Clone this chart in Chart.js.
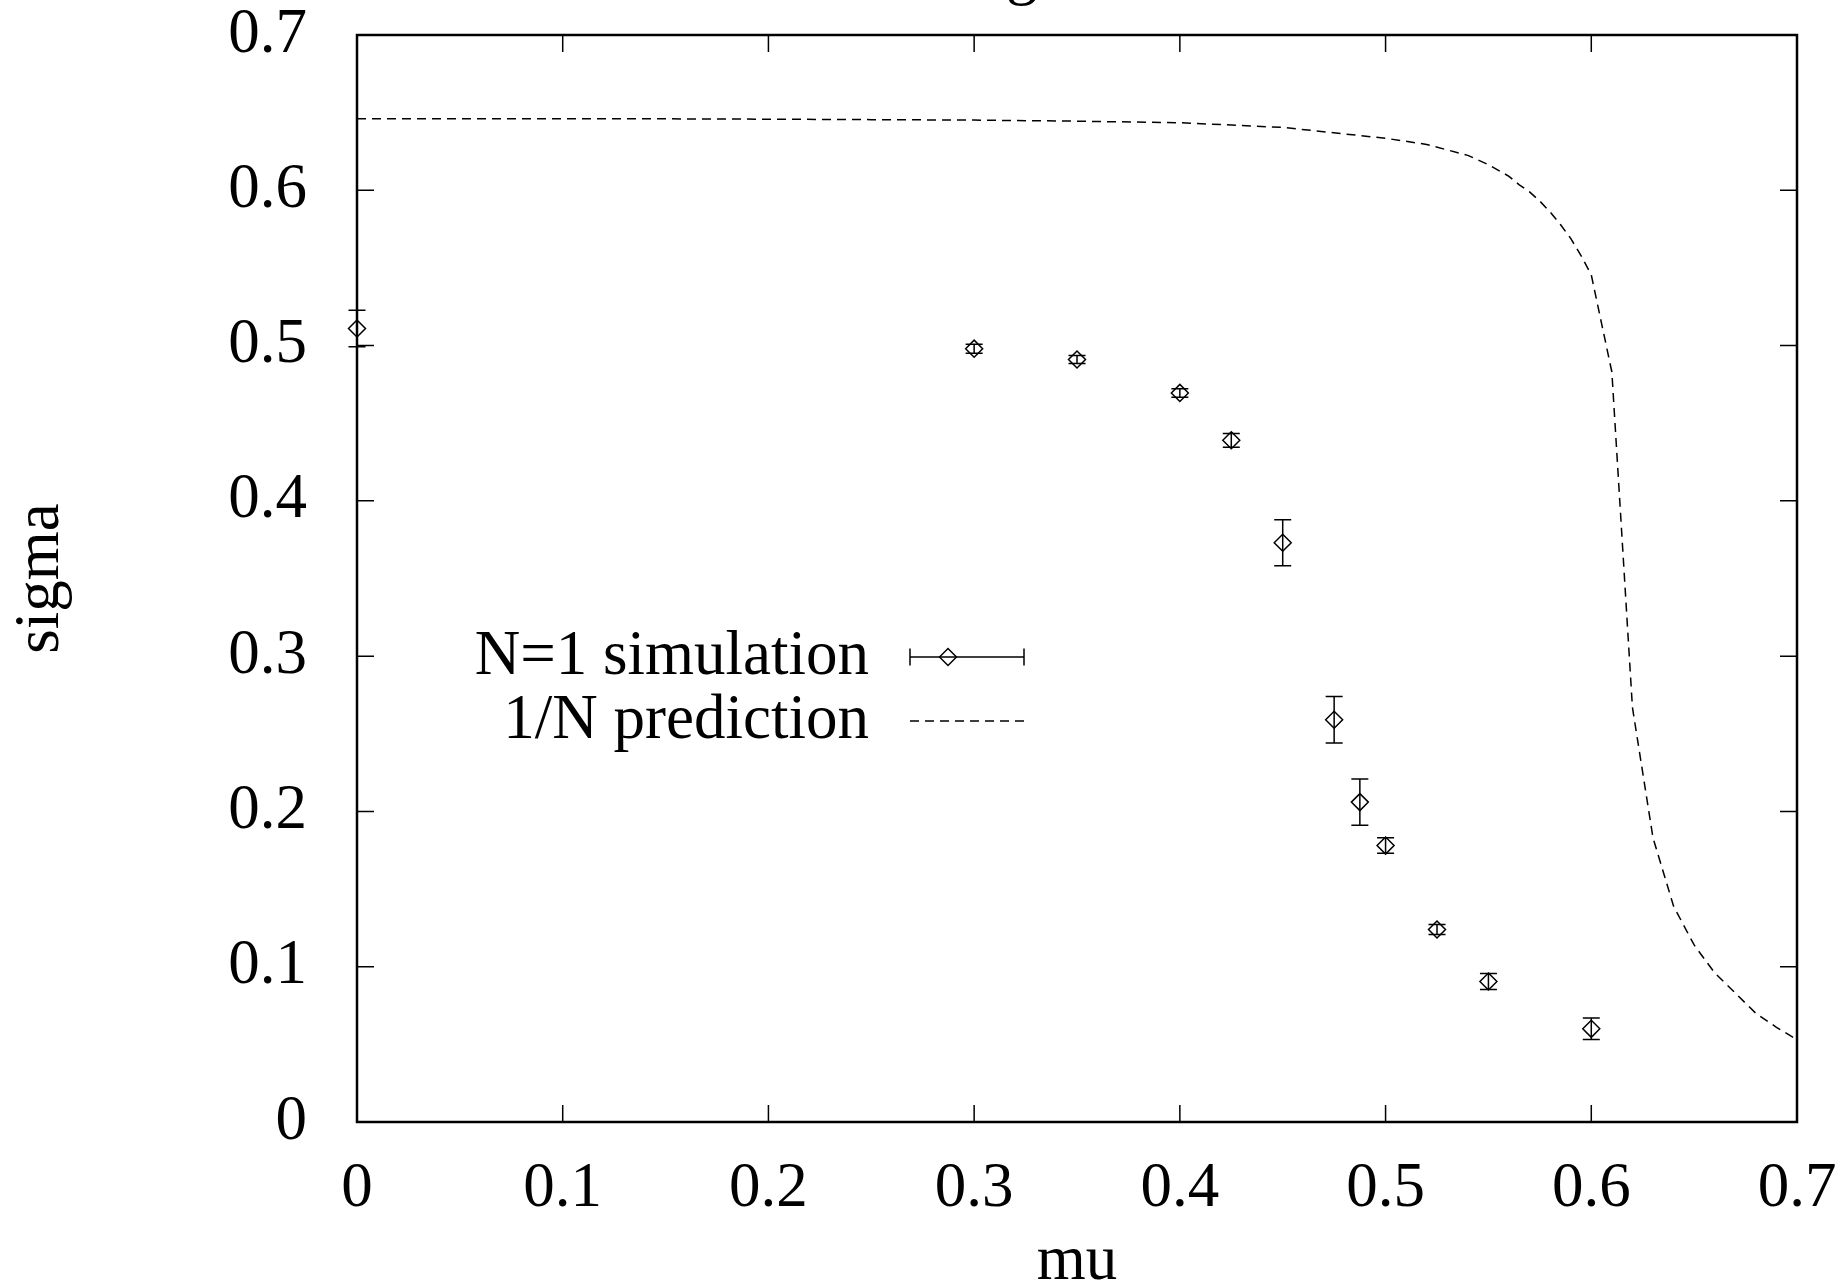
<!DOCTYPE html>
<html>
<head>
<meta charset="utf-8">
<title>sigma vs mu</title>
<script src="https://cdn.jsdelivr.net/npm/chart.js@4.4.0/dist/chart.umd.min.js"></script>
<style>
  html, body { margin: 0; padding: 0; background: #fff; }
  canvas { display: block; }
</style>
</head>
<body>
<canvas id="myChart" width="1841" height="1280"></canvas>
<script>
// N=1 simulation points (mu, sigma, error)
const simMu = [0, 0.3, 0.35, 0.4, 0.425, 0.45, 0.475, 0.4875, 0.5, 0.525, 0.55, 0.6];
const simSigma = [0.511, 0.498, 0.491, 0.4695, 0.439, 0.373, 0.259, 0.206, 0.178, 0.124, 0.0905, 0.060];
const simErr = [0.0118, 0.0029, 0.0026, 0.0027, 0.0044, 0.0148, 0.015, 0.0149, 0.005, 0.0032, 0.0052, 0.0069];

// 1/N prediction curve
const predMu = [0, 0.05, 0.1, 0.15, 0.2, 0.25, 0.3, 0.35, 0.4, 0.45, 0.5, 0.52, 0.54, 0.55, 0.56, 0.565, 0.57, 0.575, 0.58, 0.585, 0.59, 0.595, 0.6, 0.61, 0.62, 0.63, 0.64, 0.65, 0.66, 0.67, 0.68, 0.69, 0.7];
const predSigma = [0.646, 0.646, 0.646, 0.646, 0.6458, 0.6455, 0.6452, 0.6445, 0.6435, 0.6405, 0.6335, 0.6295, 0.6225, 0.6165, 0.609, 0.6035, 0.599, 0.593, 0.586, 0.578, 0.569, 0.558, 0.5455, 0.483, 0.267, 0.183, 0.139, 0.114, 0.096, 0.083, 0.070, 0.061, 0.053];

const xTicks = [0, 0.1, 0.2, 0.3, 0.4, 0.5, 0.6, 0.7];
const yTicks = [0, 0.1, 0.2, 0.3, 0.4, 0.5, 0.6, 0.7];

const FONT = "'Liberation Serif', 'Times New Roman', serif";
const FONT_SIZE = 63;

const fmt = v => (v === 0 ? '0' : v.toFixed(1));

function diamond(ctx, x, y, r) {
  ctx.beginPath();
  ctx.moveTo(x - r, y);
  ctx.lineTo(x, y - r);
  ctx.lineTo(x + r, y);
  ctx.lineTo(x, y + r);
  ctx.closePath();
  ctx.stroke();
}

// labels are allowed to hang over the plot edges, like gnuplot does
function noLabelPadding(scale) {
  scale.paddingTop = 0;
  scale.paddingBottom = 0;
  scale.paddingLeft = 0;
  scale.paddingRight = 0;
}

// gnuplot style frame with inward ticks on every side
const framePlugin = {
  id: 'frame',
  afterDraw(chart) {
    const { ctx, chartArea: a, scales: { x, y } } = chart;
    ctx.save();
    ctx.strokeStyle = '#000';
    ctx.lineWidth = 1.5;
    ctx.beginPath();
    xTicks.forEach(v => {
      const px = x.getPixelForValue(v);
      ctx.moveTo(px, a.bottom); ctx.lineTo(px, a.bottom - 17);
      ctx.moveTo(px, a.top); ctx.lineTo(px, a.top + 17);
    });
    yTicks.forEach(v => {
      const py = y.getPixelForValue(v);
      ctx.moveTo(a.left, py); ctx.lineTo(a.left + 17, py);
      ctx.moveTo(a.right, py); ctx.lineTo(a.right - 17, py);
    });
    ctx.stroke();
    ctx.lineWidth = 2.5;
    ctx.strokeRect(a.left, a.top, a.right - a.left, a.bottom - a.top);

    // bit of the title that pokes into the picture
    ctx.fillStyle = '#000';
    ctx.font = `${FONT_SIZE}px ${FONT}`;
    ctx.textAlign = 'center';
    ctx.textBaseline = 'alphabetic';
    ctx.fillText('g', 1022, -8);
    ctx.restore();
  }
};

// vertical error bars with caps
const errorBarPlugin = {
  id: 'errorBars',
  afterDatasetsDraw(chart) {
    const { ctx, scales: { x, y } } = chart;
    ctx.save();
    ctx.strokeStyle = '#000';
    ctx.lineWidth = 1.5;
    ctx.beginPath();
    simMu.forEach((m, i) => {
      const px = x.getPixelForValue(m);
      const top = y.getPixelForValue(simSigma[i] + simErr[i]);
      const bot = y.getPixelForValue(simSigma[i] - simErr[i]);
      ctx.moveTo(px, top); ctx.lineTo(px, bot);
      ctx.moveTo(px - 8.5, top); ctx.lineTo(px + 8.5, top);
      ctx.moveTo(px - 8.5, bot); ctx.lineTo(px + 8.5, bot);
    });
    ctx.stroke();
    ctx.restore();
  }
};

// key placed inside the plot, text to the left of the sample
const keyPlugin = {
  id: 'key',
  afterDraw(chart) {
    const { ctx } = chart;
    const ds = chart.data.datasets;
    const textRight = 869, x0 = 910, x1 = 1024;
    const rows = [657, 721];
    ctx.save();
    ctx.fillStyle = '#000';
    ctx.strokeStyle = '#000';
    ctx.font = `${FONT_SIZE}px ${FONT}`;
    ctx.textAlign = 'right';
    ctx.textBaseline = 'middle';
    ctx.fillText(ds[0].label, textRight, rows[0]);
    ctx.fillText(ds[1].label, textRight, rows[1]);

    ctx.lineWidth = 1.5;
    ctx.beginPath();
    ctx.moveTo(x0, rows[0]); ctx.lineTo(x1, rows[0]);
    ctx.moveTo(x0, rows[0] - 8.5); ctx.lineTo(x0, rows[0] + 8.5);
    ctx.moveTo(x1, rows[0] - 8.5); ctx.lineTo(x1, rows[0] + 8.5);
    ctx.stroke();
    diamond(ctx, 948, rows[0], 8.5);

    ctx.setLineDash([9, 6]);
    ctx.beginPath();
    ctx.moveTo(x0, rows[1]); ctx.lineTo(x1, rows[1]);
    ctx.stroke();
    ctx.restore();
  }
};

const ctx = document.getElementById('myChart').getContext('2d');
const myChart = new Chart(ctx, {
  type: 'scatter',
  data: {
    datasets: [
      {
        label: 'N=1 simulation',
        data: simMu.map((m, i) => ({ x: m, y: simSigma[i] })),
        showLine: false,
        pointStyle: 'rectRot',
        pointRadius: 8.5,
        pointBorderWidth: 1.5,
        borderColor: '#000',
        backgroundColor: 'rgba(0,0,0,0)',
        clip: false,
      },
      {
        label: '1/N prediction',
        data: predMu.map((m, i) => ({ x: m, y: predSigma[i] })),
        showLine: true,
        borderColor: '#000',
        borderWidth: 1.5,
        borderDash: [9, 6],
        pointRadius: 0,
        tension: 0,
        fill: false,
      },
    ],
  },
  options: {
    responsive: false,
    animation: false,
    events: [],
    layout: { padding: { left: 0, top: 35, right: 44, bottom: 0 } },
    plugins: {
      legend: { display: false },
      tooltip: { enabled: false },
    },
    scales: {
      x: {
        type: 'linear',
        min: 0,
        max: 0.7,
        afterBuildTicks: scale => { scale.ticks = xTicks.map(v => ({ value: v })); },
        afterFit: scale => { scale.height = 158; noLabelPadding(scale); },
        grid: { display: false },
        border: { display: false },
        ticks: {
          padding: 22,
          maxRotation: 0,
          autoSkip: false,
          color: '#000',
          font: { family: FONT, size: FONT_SIZE, lineHeight: 1.2 },
          callback: v => fmt(v),
        },
        title: {
          display: true,
          text: 'mu',
          color: '#000',
          padding: 0,
          font: { family: FONT, size: FONT_SIZE, lineHeight: 0.55 },
        },
      },
      y: {
        type: 'linear',
        min: 0,
        max: 0.7,
        afterBuildTicks: scale => { scale.ticks = yTicks.map(v => ({ value: v })); },
        afterFit: scale => { scale.width = 357; noLabelPadding(scale); },
        grid: { display: false },
        border: { display: false },
        ticks: {
          padding: 42,
          autoSkip: false,
          color: '#000',
          font: { family: FONT, size: FONT_SIZE, lineHeight: 1.2 },
          callback: v => fmt(v),
        },
        title: {
          display: true,
          text: 'sigma',
          color: '#000',
          padding: { top: 13, bottom: 0 },
          font: { family: FONT, size: FONT_SIZE, lineHeight: 0.9 },
        },
      },
    },
  },
  plugins: [framePlugin, errorBarPlugin, keyPlugin],
});
</script>
</body>
</html>
